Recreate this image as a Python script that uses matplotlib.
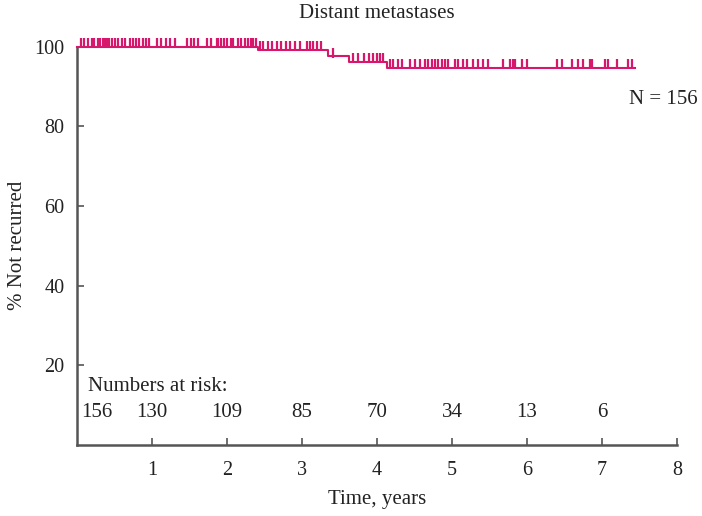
import numpy as np
import matplotlib
matplotlib.use("Agg")
import matplotlib.pyplot as plt

plt.rcParams['font.family'] = ['Liberation Serif', 'DejaVu Serif']

# Kaplan-Meier step data (years, % not recurred)
event_times = [0.0, 2.41, 3.35, 3.62, 4.13]
survival = [100.0, 99.3, 97.6, 96.3, 94.7]
end_time = 7.44

censor_times = [0.05, 0.09, 0.15, 0.195, 0.22, 0.28, 0.31, 0.34, 0.37, 0.40, 0.43,
                0.47, 0.51, 0.55, 0.60, 0.64, 0.70, 0.74, 0.79, 0.83, 0.88, 0.92,
                0.96, 1.06, 1.12, 1.18, 1.24, 1.30, 1.46, 1.52, 1.56, 1.61, 1.73,
                1.78, 1.86, 1.88, 1.92, 1.96, 2.00, 2.05, 2.08, 2.15, 2.19, 2.24,
                2.28, 2.32, 2.35, 2.38, 2.44, 2.48, 2.55, 2.60, 2.66, 2.72, 2.78,
                2.84, 2.91, 2.97, 3.06, 3.11, 3.15, 3.20, 3.25, 3.41, 3.68, 3.75,
                3.83, 3.89, 3.95, 4.00, 4.04, 4.08, 4.17, 4.21, 4.28, 4.33, 4.44,
                4.51, 4.57, 4.64, 4.68, 4.73, 4.77, 4.81, 4.86, 4.91, 4.95, 5.04,
                5.08, 5.15, 5.20, 5.28, 5.35, 5.41, 5.48, 5.68, 5.77, 5.81, 5.84,
                5.93, 6.00, 6.40, 6.46, 6.60, 6.68, 6.75, 6.84, 6.87, 7.04, 7.08,
                7.20, 7.35, 7.40]

risk_positions = [0.27, 1, 2, 3, 4, 5, 6, 7]
risk_numbers = ["156", "130", "109", "85", "70", "34", "13", "6"]

x_ticks = [1, 2, 3, 4, 5, 6, 7, 8]
y_ticks = [20, 40, 60, 80, 100]

color = '#d6176b'
spine_color = '#555555'
text_color = '#222222'

fig = plt.figure(figsize=(7.02, 5.16), dpi=100)
ax = fig.add_axes([0.1097, 0.1385, 0.8547, 0.7705])

xs = event_times + [end_time]
ys = survival + [survival[-1]]
ax.step(xs, ys, where='post', color=color, lw=1.5, clip_on=False, zorder=3)

ct = np.array(censor_times)
idx = np.searchsorted(np.array(event_times), ct, side='right') - 1
cy = np.array(survival)[idx]
ax.plot(ct, cy + 1.0, linestyle='none', marker='|', markersize=7.5,
        markeredgewidth=1.6, color=color, clip_on=False, zorder=3)

ax.set_xlim(0, 8)
ax.set_ylim(0, 100)
ax.set_xticks(x_ticks)
ax.set_yticks(y_ticks)
ax.tick_params(axis='both', direction='in', length=5, width=1.2,
               color=spine_color, labelsize=14.5, labelcolor=text_color)
ax.tick_params(axis='x', pad=12)
ax.tick_params(axis='y', pad=9)

for s in ['top', 'right']:
    ax.spines[s].set_visible(False)
for s in ['left', 'bottom']:
    ax.spines[s].set_color(spine_color)
    ax.spines[s].set_linewidth(1.8)

ax.set_xlabel('Time, years', fontsize=15, color=text_color, labelpad=7)
ax.set_ylabel('% Not recurred', fontsize=15, color=text_color, labelpad=5)
ax.set_title('Distant metastases', fontsize=15, color=text_color, pad=21)

ax.text(8.28, 86.8, 'N = 156', fontsize=15, ha='right', va='center', color=text_color)
ax.text(0.14, 14.7, 'Numbers at risk:', fontsize=15, ha='left', va='center', color=text_color)
for xp, n in zip(risk_positions, risk_numbers):
    ax.text(xp, 8.1, n, fontsize=15, ha='center', va='center', color=text_color)

fig.savefig('out.png', dpi=100)
